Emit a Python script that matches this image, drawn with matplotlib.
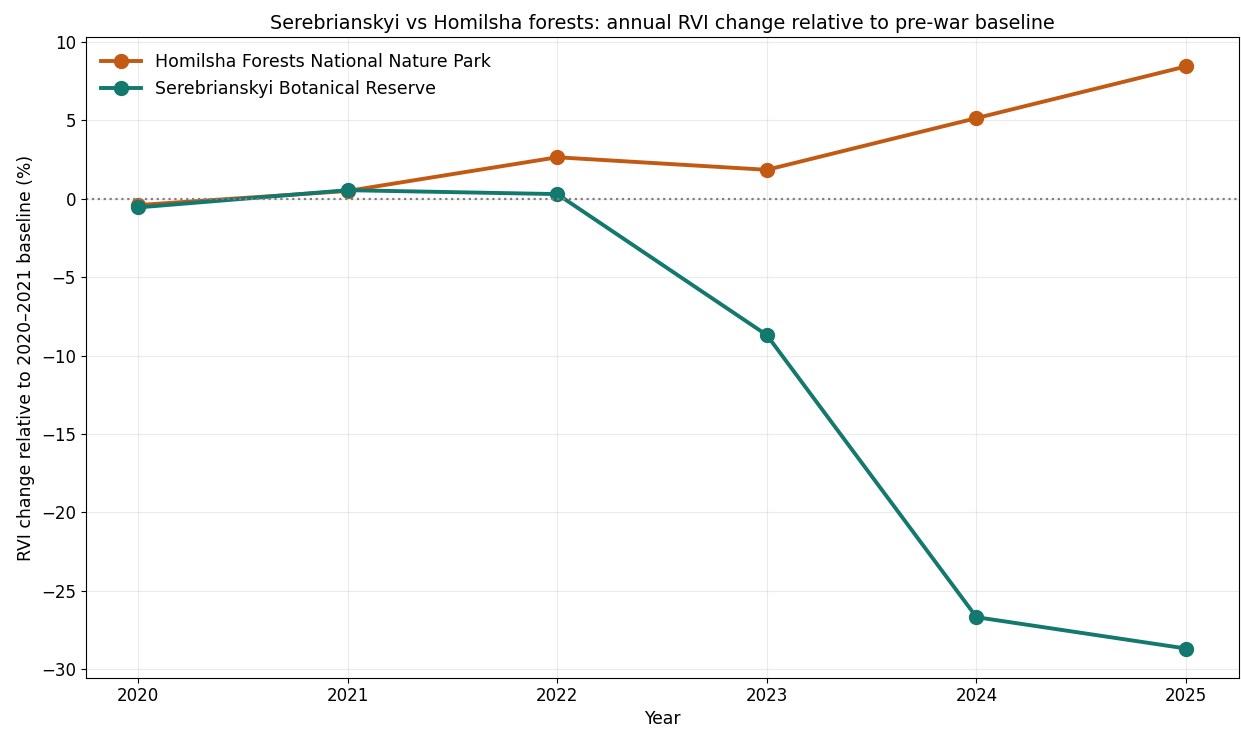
import matplotlib
matplotlib.use('Agg')
import matplotlib.pyplot as plt

# Data
years = [2020, 2021, 2022, 2023, 2024, 2025]
homilsha = [-0.4, 0.5, 2.65, 1.85, 5.15, 8.45]
serebrianskyi = [-0.55, 0.55, 0.3, -8.7, -26.7, -28.7]

fig, ax = plt.subplots(figsize=(12.41, 7.31), dpi=100)

ax.plot(years, homilsha, '-o', color='#c25a14', linewidth=2.8, markersize=10,
        label='Homilsha Forests National Nature Park')
ax.plot(years, serebrianskyi, '-o', color='#13786d', linewidth=2.8, markersize=10,
        label='Serebrianskyi Botanical Reserve')

ax.axhline(0, color='gray', linestyle=':', linewidth=1.6)
ax.grid(True, alpha=0.25)

ax.set_xticks(years)
ax.set_xticklabels([str(y) for y in years])

ax.set_title('Serebrianskyi vs Homilsha forests: annual RVI change relative to pre-war baseline',
             fontsize=13.8)
ax.set_xlabel('Year', fontsize=12.4, labelpad=3)
ax.set_ylabel('RVI change relative to 2020\u20132021 baseline (%)', fontsize=12.4)
ax.tick_params(labelsize=12)
ax.legend(loc='upper left', fontsize=12.5, frameon=False, handlelength=2.3)

plt.subplots_adjust(left=0.069, right=0.998, top=0.949, bottom=0.073)
plt.savefig('out.png', dpi=100)
plt.close()
